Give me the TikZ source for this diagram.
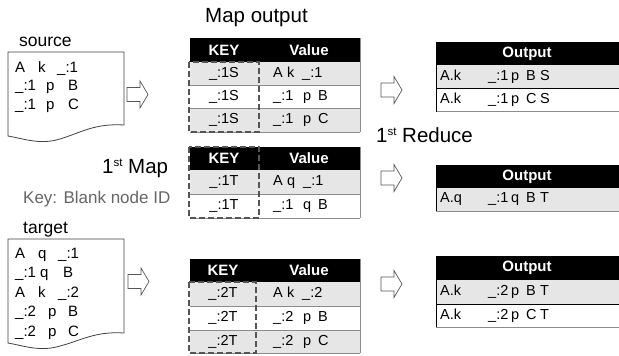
\documentclass[tikz,border=0pt]{standalone}
\usepackage{fontspec}
\setmainfont{Liberation Sans}
\newcommand{\mytk}[2]{\makebox[#1pt][l]{#2}}
\newcommand{\fsz}[1]{\fontsize{#1}{#1}\selectfont}
\definecolor{rowgray}{HTML}{E6E6E6}
\definecolor{linegray}{HTML}{8C8C8C}
\definecolor{dashgray}{HTML}{555555}
\definecolor{docgray}{HTML}{404040}
\definecolor{keygray}{HTML}{666666}
\begin{document}
\begin{tikzpicture}[x=1pt,y=-1pt,
  cellbox/.style={inner sep=0pt,outer sep=0pt,anchor=north west},
  hdr/.style={cellbox,fill=black},
  rowg/.style={cellbox,fill=rowgray},
  roww/.style={cellbox,fill=white},
  htext/.style={text=white,font=\fsz{15}\bfseries,inner sep=0pt},
  ctext/.style={font=\fsz{14.5},inner sep=0pt},
  vtext/.style={font=\fsz{14.5},inner sep=0pt,anchor=west},
  doctext/.style={font=\fsz{15},inner sep=0pt,anchor=base west},
  label/.style={inner sep=0pt,anchor=base west},
  gridline/.style={draw=linegray,line width=0.8pt},
  darkline/.style={draw=black,line width=0.8pt},
  dbox/.style={draw=dashgray,line width=2.6pt,dash pattern=on 6pt off 3pt},
  docline/.style={draw=docgray,line width=0.8pt,fill=white},
  barrow/.pic={\draw[draw=dashgray,line width=0.7pt,fill=white] (0,-7) -- (13,-7) -- (13,-13.5) -- (21,0) -- (13,13.5) -- (13,7) -- (0,7) -- cycle;}
]
\useasboundingbox (0,0) rectangle (619,356);

% ---------- titles ----------
\node[label,font=\fsz{20.5}] (tmap) at (205,23) {Map output};
\node[label,font=\fsz{17.5}] (tsrc) at (19,46) {source};
\node[label,font=\fsz{17.5}] (ttgt) at (23,233) {target};
\node[label,font=\fsz{20.5}] (tfirstmap) at (102,173) {1\raisebox{6.5pt}{\fsz{11.5}st} Map};
\node[label,font=\fsz{17},text=keygray] (tkey) at (23,203) {Key: Blank node ID};
\node[label,font=\fsz{20.5}] (tred) at (376,142) {1\raisebox{6.5pt}{\fsz{11.5}st} Reduce};

% ---------- source document ----------
\draw[docline] (8,52) -- (124,52) -- (124,125) .. controls (95,123) and (80,133) .. (60,139) .. controls (40,145) and (25,139) .. (8,136) -- cycle;
\node[doctext] (s1) at (15,72) {\mytk{23}{A}\mytk{19}{k}\_:1};
\node[doctext] (s2) at (15,90.5) {\mytk{31}{\_:1}\mytk{22}{p}B};
\node[doctext] (s3) at (15,109) {\mytk{31}{\_:1}\mytk{22}{p}C};

% ---------- target document ----------
\draw[docline] (8,239) -- (124,239) -- (124,333) .. controls (95,331) and (80,341) .. (60,346) .. controls (40,352) and (25,346) .. (8,343) -- cycle;
\node[doctext] (g1) at (15,258) {\mytk{23}{A}\mytk{20}{q}\_:1};
\node[doctext] (g2) at (15,277.5) {\mytk{25}{\_:1}\mytk{23}{q}B};
\node[doctext] (g3) at (15,297) {\mytk{23}{A}\mytk{20}{k}\_:2};
\node[doctext] (g4) at (15,316.5) {\mytk{33}{\_:2}\mytk{20}{p}B};
\node[doctext] (g5) at (15,336) {\mytk{33}{\_:2}\mytk{20}{p}C};

% ---------- block arrows ----------
\pic at (127,94.5) {barrow};
\pic at (128,281.5) {barrow};
\pic at (381,90) {barrow};
\pic at (381,178) {barrow};
\pic at (381,284) {barrow};

% ---------- map table 1 ----------
\node[hdr,minimum width=170pt,minimum height=24pt] (m1h) at (190,38) {};
\node[htext] (m1hk) at (224,50) {KEY};
\node[htext] (m1hv) at (309,50) {Value};
\node[rowg,minimum width=170pt,minimum height=23.4pt] (m1r1) at (190,62) {};
\node[roww,minimum width=170pt,minimum height=23.3pt] (m1r2) at (190,85.4) {};
\node[rowg,minimum width=170pt,minimum height=23.3pt] (m1r3) at (190,108.7) {};
\node[ctext] (m1k1) at (224,73.7) {\_:1S};
\node[ctext] (m1k2) at (224,97) {\_:1S};
\node[ctext] (m1k3) at (224,120.3) {\_:1S};
\node[vtext] (m1v1) at (273,73.7) {\mytk{14}{A}\mytk{15}{k}\_:1};
\node[vtext] (m1v2) at (273,97) {\mytk{30}{\_:1}\mytk{15}{p}B};
\node[vtext] (m1v3) at (273,120.3) {\mytk{30}{\_:1}\mytk{15}{p}C};
\draw[gridline] (m1r1.south west) -- (m1r1.south east);
\draw[gridline] (m1r2.south west) -- (m1r2.south east);
\draw[gridline] (m1r3.south west) -- (m1r3.south east);
\draw[gridline] (m1h.north east) -- (m1r3.south east);
\draw[dbox] (189,62) rectangle (259,132);

% ---------- map table 2 ----------
\node[hdr,minimum width=170pt,minimum height=23pt] (m2h) at (190,147) {};
\node[htext] (m2hk) at (224,158.5) {KEY};
\node[htext] (m2hv) at (309,158.5) {Value};
\node[rowg,minimum width=170pt,minimum height=24pt] (m2r1) at (190,170) {};
\node[roww,minimum width=170pt,minimum height=24pt] (m2r2) at (190,194) {};
\node[ctext] (m2k1) at (224,182) {\_:1T};
\node[ctext] (m2k2) at (224,206) {\_:1T};
\node[vtext] (m2v1) at (273,182) {\mytk{14}{A}\mytk{16}{q}\_:1};
\node[vtext] (m2v2) at (273,206) {\mytk{30}{\_:1}\mytk{15}{q}B};
\draw[gridline] (m2r1.south west) -- (m2r1.south east);
\draw[gridline] (m2r2.south west) -- (m2r2.south east);
\draw[gridline] (m2h.north east) -- (m2r2.south east);
\draw[dbox] (189,147) rectangle (259,218);

% ---------- map table 3 ----------
\node[hdr,minimum width=170pt,minimum height=23pt] (m3h) at (190,259) {};
\node[htext] (m3hk) at (223,270.5) {KEY};
\node[htext] (m3hv) at (309,270.5) {Value};
\node[rowg,minimum width=170pt,minimum height=24pt] (m3r1) at (190,282) {};
\node[roww,minimum width=170pt,minimum height=24pt] (m3r2) at (190,306) {};
\node[rowg,minimum width=170pt,minimum height=23pt] (m3r3) at (190,330) {};
\node[ctext] (m3k1) at (223,294) {\_:2T};
\node[ctext] (m3k2) at (223,318) {\_:2T};
\node[ctext] (m3k3) at (223,341.5) {\_:2T};
\node[vtext] (m3v1) at (273,294) {\mytk{14}{A}\mytk{15}{k}\_:2};
\node[vtext] (m3v2) at (273,318) {\mytk{30}{\_:2}\mytk{15}{p}B};
\node[vtext] (m3v3) at (273,341.5) {\mytk{30}{\_:2}\mytk{15}{p}C};
\draw[gridline] (m3r1.south west) -- (m3r1.south east);
\draw[gridline] (m3r2.south west) -- (m3r2.south east);
\draw[gridline] (m3r3.south west) -- (m3r3.south east);
\draw[gridline] (m3h.north east) -- (m3r3.south east);
\draw[dbox] (189,282) rectangle (256,353);

% ---------- reduce output 1 ----------
\node[hdr,minimum width=183pt,minimum height=23pt] (r1h) at (436,42) {};
\node[htext] (r1ht) at (527,53.5) {Output};
\node[rowg,minimum width=183pt,minimum height=23pt] (r1r1) at (436,65) {};
\node[roww,minimum width=183pt,minimum height=23.5pt] (r1r2) at (436,88) {};
\node[vtext] (r1t1) at (440,76.5) {\mytk{48}{A.k}\mytk{23}{\_:1}\mytk{15}{p}\mytk{14}{B}S};
\node[vtext] (r1t2) at (440,99.7) {\mytk{48}{A.k}\mytk{23}{\_:1}\mytk{15}{p}\mytk{14}{C}S};
\draw[darkline] (r1r1.south west) -- (r1r1.south east);
\draw[gridline] (r1r2.south west) -- (r1r2.south east);
\draw[darkline] (r1h.north west) -- (r1r2.south west);

% ---------- reduce output 2 ----------
\node[hdr,minimum width=183pt,minimum height=23pt] (r2h) at (436,165) {};
\node[htext] (r2ht) at (527,176.5) {Output};
\node[rowg,minimum width=183pt,minimum height=23pt] (r2r1) at (436,188) {};
\node[vtext] (r2t1) at (440,199.5) {\mytk{48}{A.q}\mytk{23}{\_:1}\mytk{15}{q}\mytk{14}{B}T};
\draw[gridline] (r2r1.south west) -- (r2r1.south east);
\draw[darkline] (r2h.north west) -- (r2r1.south west);

% ---------- reduce output 3 ----------
\node[hdr,minimum width=183pt,minimum height=24pt] (r3h) at (436,256) {};
\node[htext] (r3ht) at (527,268) {Output};
\node[rowg,minimum width=183pt,minimum height=24pt] (r3r1) at (436,280) {};
\node[roww,minimum width=183pt,minimum height=23pt] (r3r2) at (436,304) {};
\node[vtext] (r3t1) at (440,292) {\mytk{48}{A.k}\mytk{23}{\_:2}\mytk{15}{p}\mytk{14}{B}T};
\node[vtext] (r3t2) at (440,315.5) {\mytk{48}{A.k}\mytk{23}{\_:2}\mytk{15}{p}\mytk{14}{C}T};
\draw[darkline] (r3r1.south west) -- (r3r1.south east);
\draw[gridline] (r3r2.south west) -- (r3r2.south east);
\draw[darkline] (r3h.north west) -- (r3r2.south west);
\end{tikzpicture}
\end{document}
